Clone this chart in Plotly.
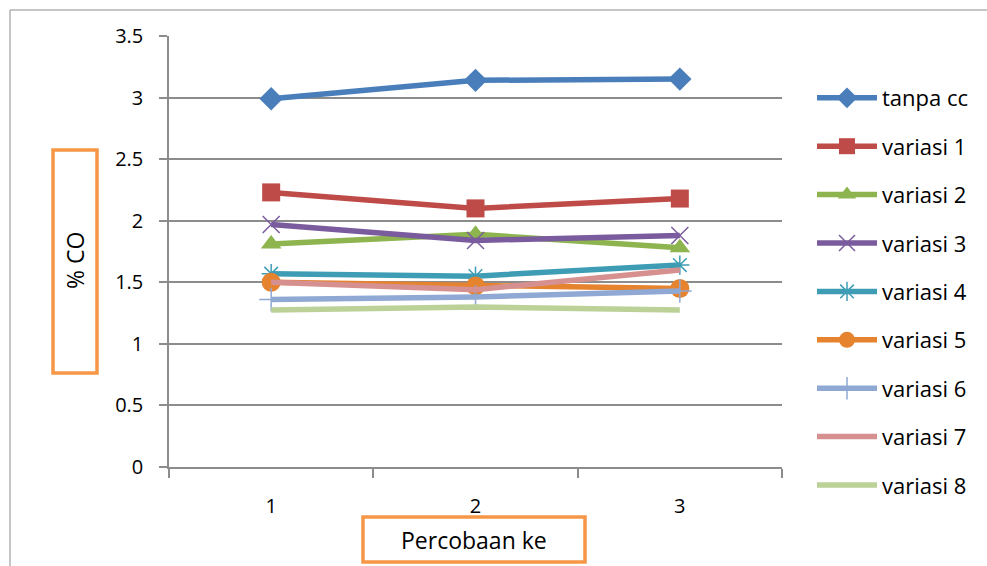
import plotly.graph_objects as go

trials = [1, 2, 3]
tick_labels = ["1", "2", "3"]
series_names = ["tanpa cc", "variasi 1", "variasi 2", "variasi 3", "variasi 4",
                "variasi 5", "variasi 6", "variasi 7", "variasi 8"]
tanpa_cc = [2.99, 3.14, 3.15]
variasi_1 = [2.23, 2.10, 2.18]
variasi_2 = [1.81, 1.89, 1.78]
variasi_3 = [1.97, 1.84, 1.88]
variasi_4 = [1.57, 1.55, 1.64]
variasi_5 = [1.50, 1.47, 1.45]
variasi_6 = [1.36, 1.38, 1.43]
variasi_7 = [1.50, 1.44, 1.60]
variasi_8 = [1.275, 1.30, 1.275]
values = [tanpa_cc, variasi_1, variasi_2, variasi_3, variasi_4,
          variasi_5, variasi_6, variasi_7, variasi_8]

colors = ["#4A7EBB", "#BE4B48", "#8DB44E", "#7A5C9E", "#3E9DB5",
          "#E5832F", "#8FA9D4", "#D6908F", "#BBD197"]
symbols = ["diamond", "square", "triangle-up", "x-thin-open", "asterisk-open",
           "circle", "cross-thin-open", None, None]
sizes = [18, 18, 18, 17, 16, 19, 17, 0, 0]

W, H = 987, 566
L, R, T, B = 169, 782, 36, 467  # plot area in page pixels
def px_x(p):
    return (p - L) / (R - L)
def px_y(p):
    return (B - p) / (B - T)

fig = go.Figure()
for i, (name, vals) in enumerate(zip(series_names, values)):
    sym = symbols[i]
    if sym is None:
        mode = "lines"
        marker = dict()
    else:
        mode = "lines+markers"
        if sym.endswith("open"):
            marker = dict(symbol=sym, size=sizes[i], color=colors[i],
                          line=dict(color=colors[i], width=1.5))
        else:
            marker = dict(symbol=sym, size=sizes[i], color=colors[i])
    fig.add_trace(go.Scatter(
        x=trials, y=vals, name=name, mode=mode, legendgroup=name,
        line=dict(color=colors[i], width=5.5), marker=marker,
    ))

font_family = "Open Sans, Liberation Sans, sans-serif"

shapes = [
    dict(type="line", xref="paper", yref="paper",
         x0=px_x(10), x1=px_x(10), y0=px_y(566), y1=px_y(10),
         line=dict(color="#8C8C8C", width=1), layer="below"),
    dict(type="line", xref="paper", yref="paper",
         x0=px_x(10), x1=px_x(987), y0=px_y(10), y1=px_y(10),
         line=dict(color="#8C8C8C", width=1), layer="below"),
    dict(type="rect", xref="paper", yref="paper",
         x0=px_x(53), x1=px_x(97), y0=px_y(373), y1=px_y(150),
         line=dict(color="#F79646", width=3.5)),
    dict(type="rect", xref="paper", yref="paper",
         x0=px_x(363), x1=px_x(585), y0=px_y(562), y1=px_y(517),
         line=dict(color="#F79646", width=3.5)),
]

annotations = [
    dict(text="% CO", xref="paper", yref="paper", x=px_x(75), y=px_y(261),
         xanchor="center", yanchor="middle",
         showarrow=False, textangle=-90, font=dict(size=23, color="black", family=font_family)),
    dict(text="Percobaan ke", xref="paper", yref="paper", x=px_x(474), y=px_y(540),
         xanchor="center", yanchor="middle",
         showarrow=False, font=dict(size=23, color="black", family=font_family)),
]

fig.update_layout(
    width=W, height=H,
    margin=dict(l=L, r=W - R, t=T, b=H - B, autoexpand=False),
    paper_bgcolor="white", plot_bgcolor="white",
    font=dict(family=font_family, size=20, color="black"),
    showlegend=True,
    legend=dict(x=px_x(812), y=px_y(77), xanchor="left", yanchor="top",
                font=dict(size=22, color="black", family=font_family),
                itemwidth=60, tracegroupgap=16.8, bgcolor="rgba(0,0,0,0)",
                maxheight=800),
    shapes=shapes, annotations=annotations,
    xaxis=dict(range=[0.5, 3.5], tickvals=trials, ticktext=tick_labels,
               ticks="", showgrid=False, zeroline=False,
               tickfont=dict(size=20, color="black", family=font_family),
               showline=True, linecolor="#8C8C8C", linewidth=1.5,
               ticklabelstandoff=20,
               minor=dict(tickvals=[0.5, 1.5, 2.5, 3.5], ticks="outside",
                          ticklen=9, tickcolor="#8C8C8C", tickwidth=1.5, showgrid=False)),
    yaxis=dict(range=[0, 3.5], dtick=0.5, tick0=0, ticks="outside", ticklen=8,
               tickcolor="#8C8C8C", tickwidth=1.5,
               tickfont=dict(size=20, color="black", family=font_family),
               showgrid=True, gridcolor="#8C8C8C", gridwidth=1.5,
               zeroline=False, showline=True, linecolor="#8C8C8C", linewidth=1.5,
               ticklabelstandoff=12),
)

fig.write_html(
    "out.html",
    config={"displayModeBar": False},
    post_script="document.body.style.margin='0';document.body.style.overflow='hidden';",
)
